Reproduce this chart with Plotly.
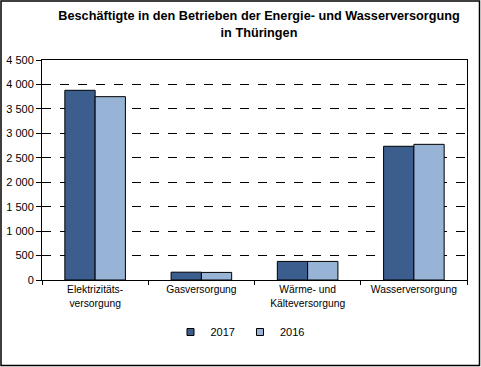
import plotly.graph_objects as go

categories = ["Elektrizitäts-<br>versorgung", "Gasversorgung", "Wärme- und<br>Kälteversorgung", "Wasserversorgung"]
values_2017 = [3880, 160, 380, 2735]
values_2016 = [3750, 155, 380, 2775]
series_names = ["2017", "2016"]
series_colors = ["#3B5E8E", "#97B3D5"]
ytick_vals = [0, 500, 1000, 1500, 2000, 2500, 3000, 3500, 4000, 4500]
ytick_text = ["0", "500", "1 000", "1 500", "2 000", "2 500", "3 000", "3 500", "4 000", "4 500"]

W, H = 481, 367
ML, MR, MT, MB = 42, 14, 60, 87
pw, ph = W - ML - MR, H - MT - MB

def px_x(x):
    return (x - ML) / pw

def px_y(y):
    return (H - MB - y) / ph

fig = go.Figure()
for name, vals, col in zip(series_names, [values_2017, values_2016], series_colors):
    fig.add_trace(go.Bar(name=name, x=categories, y=vals, showlegend=False,
                         marker=dict(color=col, line=dict(color="black", width=1))))
for name, col in zip(series_names, series_colors):
    fig.add_trace(go.Scatter(name=name, x=[None], y=[None], mode="markers",
                             marker=dict(symbol="square", size=7, color=col,
                                         line=dict(color="black", width=1))))

fig.update_layout(
    width=W, height=H,
    margin=dict(l=ML, r=MR, t=MT, b=MB, autoexpand=False),
    paper_bgcolor="white", plot_bgcolor="white",
    font=dict(family="Liberation Sans, Arial", size=11, color="black"),
    title=dict(text="<b>Beschäftigte in den Betrieben der Energie- und Wasserversorgung<br>in Thüringen</b>",
               x=px_x(259), xref="paper", xanchor="center", y=1 - 20 / H, yanchor="middle",
               font=dict(size=12.7, color="black")),
    barmode="group", bargap=0.43, bargroupgap=0,
    showlegend=True,
    legend=dict(orientation="h", x=px_x(240), xanchor="center", y=px_y(332), yanchor="middle",
                font=dict(size=11), itemwidth=30, traceorder="normal"),
    xaxis=dict(showline=True, linecolor="black", linewidth=1, mirror=True, automargin=False,
               ticks="outside", tickson="boundaries", ticklen=4, tickcolor="black",
               showgrid=False, tickfont=dict(size=10.3)),
    yaxis=dict(range=[0, 4500], tickvals=ytick_vals, ticktext=ytick_text, automargin=False,
               showline=True, linecolor="black", linewidth=1, mirror=True,
               ticks="outside", ticklen=5, tickcolor="black",
               showgrid=True, gridcolor="black", gridwidth=1, griddash="dash",
               zeroline=False),
    shapes=[dict(type="rect", xref="paper", yref="paper",
                 x0=px_x(1), x1=px_x(479.5), y0=px_y(365.5), y1=px_y(1),
                 line=dict(color="black", width=1.5), fillcolor="rgba(0,0,0,0)", layer="below")],
)

fig.write_html("out.html", config={"displayModeBar": False},
               post_script="document.body.style.margin='0';document.body.style.overflow='hidden';")
